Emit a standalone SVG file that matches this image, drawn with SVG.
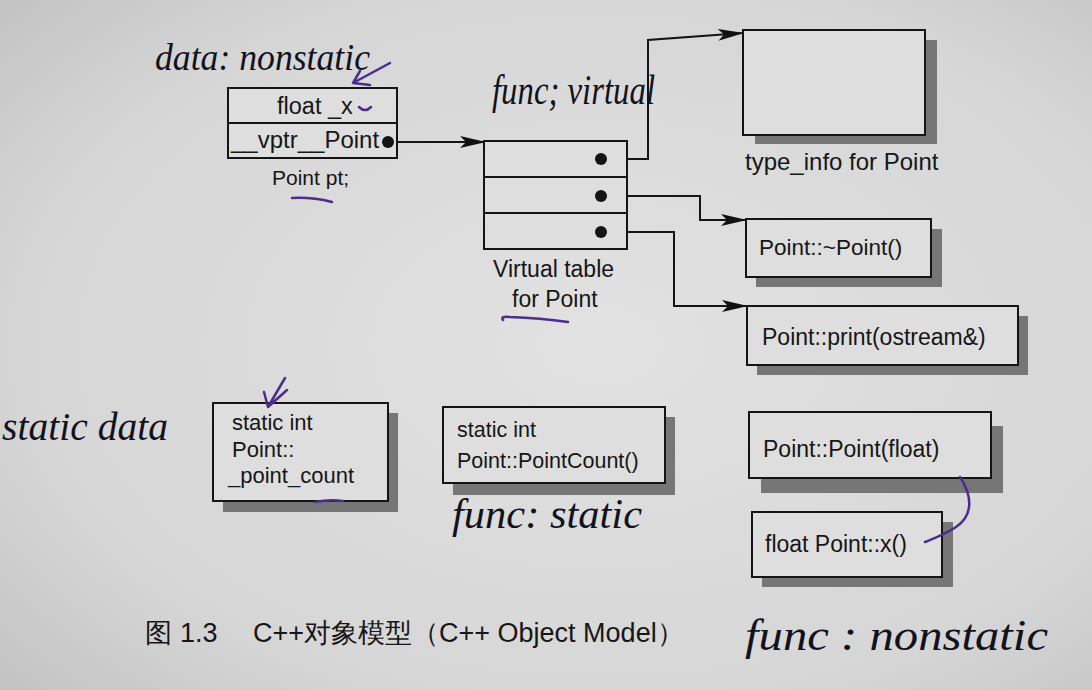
<svg xmlns="http://www.w3.org/2000/svg" width="1092" height="690" viewBox="0 0 1092 690">
<defs>
<radialGradient id="bg" cx="0.55" cy="0.5" r="0.75">
<stop offset="0" stop-color="#e2e2e2"/>
<stop offset="0.7" stop-color="#d6d6d6"/>
<stop offset="1" stop-color="#c2c2c2"/>
</radialGradient>
<marker id="arr" markerUnits="userSpaceOnUse" markerWidth="26" markerHeight="14" viewBox="0 0 26 14" refX="25" refY="7" orient="auto">
<path d="M0,1 L26,7 L0,13 L6,7 z" fill="#111"/>
</marker>
<style>
.box{fill:#dedede;stroke:#141414;stroke-width:2}
.sh{fill:#767676}
.ln{fill:none;stroke:#141414;stroke-width:2}
.t{font-family:"Liberation Sans",Arial,sans-serif;fill:#161616}
.hw{font-family:"Liberation Serif",serif;font-style:italic;fill:#12121c}
.ink{fill:none;stroke:#4a2d8c;stroke-width:2.5;stroke-linecap:round;stroke-linejoin:round}
.dot{fill:#141414}
</style>
</defs>
<rect x="0" y="0" width="1092" height="690" fill="url(#bg)"/>

<g id="connectors">
<path class="ln" d="M388,142 H485" marker-end="url(#arr)"/>
<path class="ln" d="M601,159 H648 V40 L743,33" marker-end="url(#arr)"/>
<path class="ln" d="M601,196 H700 V220 H746" marker-end="url(#arr)"/>
<path class="ln" d="M601,232 H674 V306 H747" marker-end="url(#arr)"/>
</g>

<g id="point-object">
<rect class="box" x="228" y="88" width="169" height="70"/>
<line class="ln" x1="228" y1="123" x2="397" y2="123"/>
<text class="t" x="277" y="114" font-size="23.5">float _x</text>
<text class="t" x="231" y="148" font-size="24">__vptr__Point</text>
<circle class="dot" cx="388" cy="142" r="6"/>
<text class="t" x="272" y="185" font-size="21">Point pt;</text>
</g>

<g id="vtable">
<rect class="box" x="484" y="141" width="143" height="108"/>
<line class="ln" x1="484" y1="177" x2="627" y2="177"/>
<line class="ln" x1="484" y1="213" x2="627" y2="213"/>
<circle class="dot" cx="601" cy="159" r="6"/>
<circle class="dot" cx="601" cy="196" r="6"/>
<circle class="dot" cx="601" cy="232" r="6"/>
<text class="t" x="493" y="277" font-size="23">Virtual table</text>
<text class="t" x="512" y="307" font-size="23">for Point</text>
</g>

<g id="type-info">
<rect class="sh" x="755" y="40" width="182" height="104"/>
<rect class="box" x="743" y="30" width="182" height="105"/>
<text class="t" x="745" y="170" font-size="24">type_info for Point</text>
</g>

<g id="destructor">
<rect class="sh" x="756" y="229" width="186" height="58"/>
<rect class="box" x="746" y="219" width="185" height="58"/>
<text class="t" x="759" y="255" font-size="22.5">Point::~Point()</text>
</g>

<g id="print">
<rect class="sh" x="757" y="316" width="271" height="59"/>
<rect class="box" x="747" y="306" width="271" height="59"/>
<text class="t" x="762" y="345" font-size="23">Point::print(ostream&amp;)</text>
</g>

<g id="static-data">
<rect class="sh" x="223" y="413" width="175" height="99"/>
<rect class="box" x="213" y="403" width="175" height="98"/>
<text class="t" x="232" y="430" font-size="22">static int</text>
<text class="t" x="232" y="457" font-size="22">Point::</text>
<text class="t" x="228" y="483" font-size="22">_point_count</text>
</g>

<g id="static-func">
<rect class="sh" x="453" y="417" width="222" height="78"/>
<rect class="box" x="443" y="407" width="222" height="76"/>
<text class="t" x="457" y="437" font-size="21.5">static int</text>
<text class="t" x="457" y="468" font-size="21.5">Point::PointCount()</text>
</g>

<g id="ctor">
<rect class="sh" x="761" y="426" width="242" height="67"/>
<rect class="box" x="749" y="412" width="242" height="66"/>
<text class="t" x="763" y="457" font-size="23">Point::Point(float)</text>
</g>

<g id="getx">
<rect class="sh" x="762" y="522" width="191" height="65"/>
<rect class="box" x="752" y="512" width="190" height="65"/>
<text class="t" x="765" y="552" font-size="23">float Point::x()</text>
</g>

<g id="caption">
<text class="t" y="642" font-size="27" font-family="'Liberation Sans','Noto Sans CJK SC',sans-serif"><tspan x="145">图</tspan><tspan x="180">1.3</tspan><tspan x="253">C++对象模型（C++ Object Model）</tspan></text>
</g>

<g id="annotations">
<text class="hw" x="155" y="70" font-size="38" textLength="215" lengthAdjust="spacingAndGlyphs">data: nonstatic</text>
<text class="hw" x="492" y="104" font-size="42" textLength="163" lengthAdjust="spacingAndGlyphs">func; virtual</text>
<text class="hw" x="2" y="440" font-size="40" textLength="166" lengthAdjust="spacingAndGlyphs">static data</text>
<text class="hw" x="452" y="528" font-size="42" textLength="190" lengthAdjust="spacingAndGlyphs">func: static</text>
<text class="hw" x="745" y="650" font-size="44" textLength="303" lengthAdjust="spacingAndGlyphs">func : nonstatic</text>
<path class="ink" d="M390,63 L353,83 M353,83 L360,71 M353,83 L370,85"/>
<path class="ink" d="M359,107 Q365,113 371,107"/>
<path class="ink" d="M292,198 Q312,197 332,202"/>
<path class="ink" d="M503,320 Q500,316 510,317 Q540,318 568,322"/>
<path class="ink" d="M285,378 L268,407 M268,407 L264,392 M268,407 L287,390"/>
<path class="ink" d="M315,502 Q330,499 343,501"/>
<path class="ink" d="M960,477 C972,495 974,515 956,527 C944,535 932,539 925,542"/>
</g>
</svg>
